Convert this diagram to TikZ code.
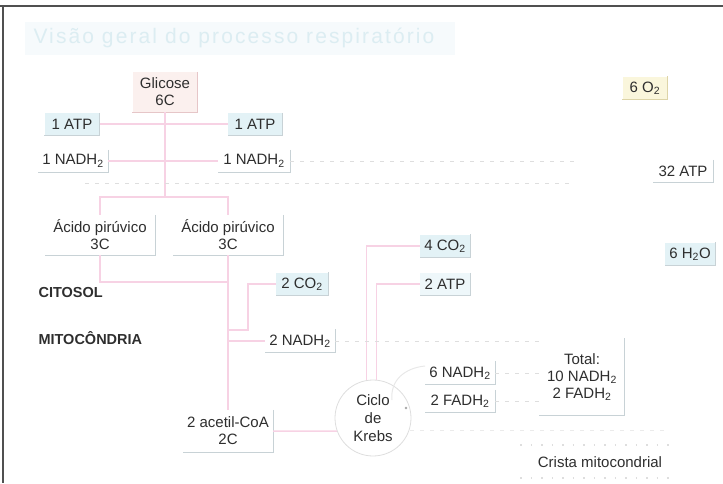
\documentclass[tikz,border=0pt]{standalone}
\usepackage{fontspec}
\setmainfont{Liberation Sans}
\newfontfamily\titlefont[LetterSpace=10]{Liberation Sans}

\definecolor{ink}{HTML}{2E2E2E}
\definecolor{framegray}{HTML}{505050}
\definecolor{titlecol}{HTML}{DCEDF2}
\definecolor{titlebg}{HTML}{F6FAFC}
\definecolor{palecyan}{HTML}{E3F2F6}
\definecolor{palepink}{HTML}{FBF0EE}
\definecolor{paleyellow}{HTML}{FAF6DC}
\definecolor{linkpink}{HTML}{F7D2E4}
\definecolor{edgegray}{HTML}{C8D2D6}
\definecolor{edgepink}{HTML}{E6C6C8}
\definecolor{edgeyellow}{HTML}{DDD4A8}
\definecolor{dashgray}{HTML}{DEDEDE}

\tikzset{
  box/.style={fill=white, align=center, text=ink, inner sep=0pt,
    font=\fontsize{15}{17}\selectfont},
  cyanbox/.style={box, fill=palecyan},
  zone/.style={anchor=west, text=ink, font=\bfseries\fontsize{14.5}{17}\selectfont},
  boxedge/.style={draw=edgegray, line width=0.8pt},
  pinkline/.style={draw=linkpink, line width=1.5pt},
  grayline/.style={draw=dashgray, line width=1pt, dash pattern=on 4pt off 6pt},
  dotline/.style={draw=dashgray, line width=1.2pt, dash pattern=on 1.5pt off 9pt},
}

\begin{document}
\begin{tikzpicture}[x=1pt,y=-1pt]
\useasboundingbox (0,0) rectangle (723,483);

% frame and title
\draw[line width=2.5pt, framegray] (0,6) -- (723,6);
\draw[line width=1.5pt, framegray] (3,6) -- (3,483);
\fill[titlebg] (25,22) rectangle (455,55);
\node[anchor=west, text=titlecol, font=\titlefont\fontsize{21}{23}\selectfont] (title) at (30,38) {Visão geral do processo respiratório};

% glicolise
\node[box, fill=palepink, minimum width=65, minimum height=40] (glic) at (165,92) {Glicose\\6C};
\node[cyanbox, minimum width=55, minimum height=22] (atpA) at (72,124) {1 ATP};
\node[cyanbox, minimum width=54, minimum height=22] (atpB) at (255,124) {1 ATP};
\node[box, minimum width=70, minimum height=22] (nadA) at (73,161) {1 NADH\textsubscript{2}};
\node[box, minimum width=72, minimum height=22] (nadB) at (254,161) {1 NADH\textsubscript{2}};
\node[box, minimum width=110, minimum height=40] (piruA) at (100,235) {Ácido pirúvico\\3C};
\node[box, minimum width=110, minimum height=40] (piruB) at (228,235) {Ácido pirúvico\\3C};

\node[zone] (citosol) at (35,293) {CITOSOL};
\node[zone] (mito) at (35,338) {MITOCÔNDRIA};

% mitocondria
\node[cyanbox, minimum width=52, minimum height=23] (co2a) at (302,284) {2 CO\textsubscript{2}};
\node[box, minimum width=70, minimum height=23] (nadC) at (300,341) {2 NADH\textsubscript{2}};
\node[box, minimum width=90, minimum height=42] (acet) at (228,431) {2 acetil-CoA\\2C};
\node[circle, draw=dashgray, line width=0.8pt, fill=white, minimum size=76, inner sep=0pt,
  align=center, text=ink, font=\fontsize{15}{18}\selectfont] (krebs) at (373,418) {Ciclo\\de\\Krebs};
\node[cyanbox, minimum width=50, minimum height=23] (co2b) at (445,246) {4 CO\textsubscript{2}};
\node[cyanbox, fill=palecyan!60, minimum width=50, minimum height=22] (atpC) at (445,284) {2 ATP};
\node[box, minimum width=70, minimum height=23] (nadD) at (460,373) {6 NADH\textsubscript{2}};
\node[box, minimum width=70, minimum height=22] (fadA) at (460,401) {2 FADH\textsubscript{2}};
\node[box, minimum width=85, minimum height=77] (total) at (582,377) {Total:\\10 NADH\textsubscript{2}\\2 FADH\textsubscript{2}};
\node[box, fill=none] (crista) at (600,462) {Crista mitocondrial};

% cadeia respiratoria
\node[box, fill=paleyellow, minimum width=45, minimum height=23] (o2) at (645,88) {6 O\textsubscript{2}};
\node[box, minimum width=60, minimum height=22] (atpD) at (683,171) {32 ATP};
\node[cyanbox, minimum width=50, minimum height=23] (h2o) at (690,254) {6 H\textsubscript{2}O};

\foreach \n in {atpA,atpB,nadA,nadB,piruA,piruB,co2a,nadC,acet,co2b,atpC,nadD,fadA,total,atpD,h2o}
  \draw[boxedge] (\n.north east) -- (\n.south east) -- (\n.south west);
\draw[boxedge, draw=edgepink] (glic.north east) -- (glic.south east) -- (glic.south west);
\draw[boxedge, draw=edgeyellow] (o2.north east) -- (o2.south east) -- (o2.south west);

% ligacoes
\coordinate (fork) at (165,197);
\coordinate (join) at (228,282);
\coordinate (kink) at (248,330);
\draw[pinkline] (glic.south) -- (fork);
\draw[pinkline] (atpA.east) -- (atpB.west);
\draw[pinkline] (nadA.east) -- (nadB.west);
\draw[pinkline] (piruA.north) |- (fork) -| (piruB.north);
\draw[pinkline] (piruA.south) |- (join);
\draw[pinkline] (piruB.south) -- (acet.north);
\draw[pinkline] (co2a.west) -| (kink) -- (kink -| acet.north);
\draw[pinkline] (nadC.west) -- (nadC.west -| acet.north);
\draw[pinkline] (acet.east) -- (krebs.200);
\draw[pinkline] (krebs.100) |- (co2b.west);
\draw[pinkline] (krebs.85) |- (atpC.west);

% linhas tracejadas
\coordinate (g1) at (580,161);
\coordinate (g2) at (85,183);
\coordinate (g3) at (570,183);
\coordinate (g4) at (410,430);
\coordinate (g5) at (665,430);
\draw[grayline] (nadB.east) -- (g1);
\draw[grayline] (g2) -- (g3);
\draw[grayline] (nadC.east) -- (nadC.east -| total.west);
\draw[grayline] (nadD.east) -- (nadD.east -| total.west);
\draw[grayline] (fadA.east) -- (fadA.east -| total.west);
\draw[grayline, draw=dashgray!60] (g4) -- (g5);
\draw[dotline] (520,445) -- (670,445);
\draw[dotline] (520,478) -- (670,478);

% seta do ciclo
\draw[draw=dashgray!70, line width=1pt] (392,400) .. controls (390,380) and (405,368) .. (425,366);
\fill[gray!70] (406,408) circle (1.3);
\end{tikzpicture}
\end{document}
